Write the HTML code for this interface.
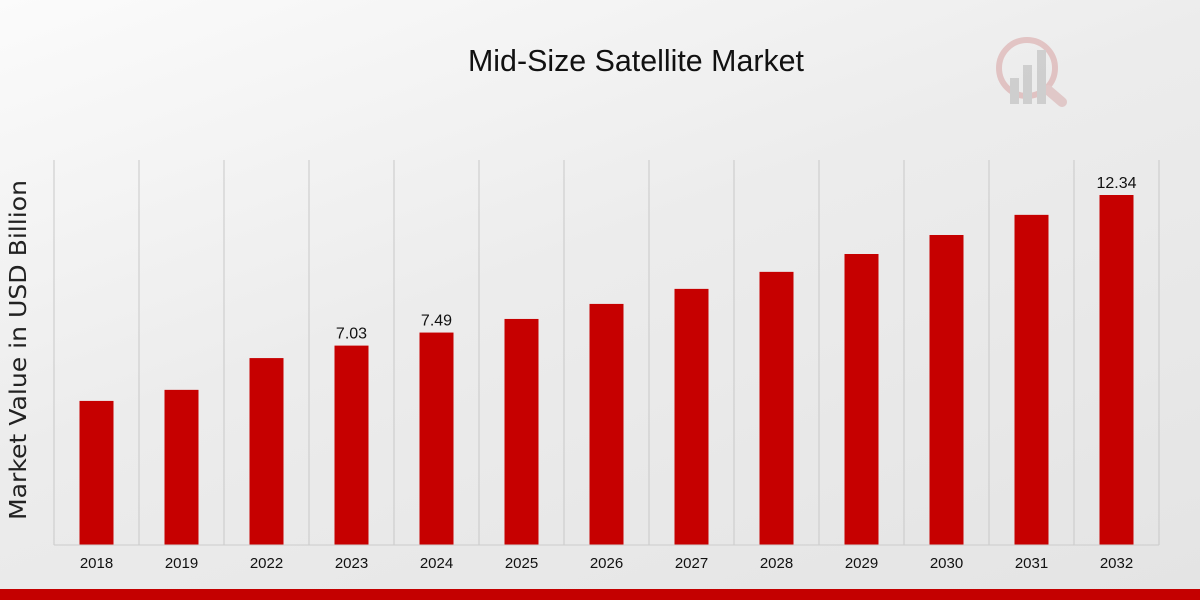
<!DOCTYPE html>
<html><head><meta charset="utf-8"><style>
html,body{margin:0;padding:0;width:1200px;height:600px;overflow:hidden;}
body{background:linear-gradient(160deg,#fbfbfb 0%,#ececec 45%,#e4e4e4 100%);font-family:"Liberation Sans",sans-serif;}
</style></head><body>
<svg id="chart" width="1200" height="600" xmlns="http://www.w3.org/2000/svg" style="position:absolute;left:0;top:0">
<text x="468" y="71" textLength="336" lengthAdjust="spacingAndGlyphs" font-family="Liberation Sans, sans-serif" font-size="31" fill="#111">Mid-Size Satellite Market</text>
<text transform="translate(26,350) rotate(-90)" text-anchor="middle" textLength="340" lengthAdjust="spacingAndGlyphs" font-size="23" fill="#222" font-family="DejaVu Sans, sans-serif">Market Value in USD Billion</text>
<g opacity="0.35">
<circle cx="1027" cy="68" r="28" fill="none" stroke="#c77" stroke-width="6"/>
<line x1="1048" y1="90" x2="1062" y2="102" stroke="#c88" stroke-width="10" stroke-linecap="round"/>
<rect x="1010" y="78" width="9" height="26" fill="#999"/><rect x="1023" y="65" width="9" height="39" fill="#999"/><rect x="1037" y="50" width="9" height="54" fill="#999"/>
</g>
<g id="grid"></g><g id="bars"></g><g id="labels"></g>
<line x1="54" y1="545" x2="1159" y2="545" stroke="#ccc" stroke-width="1"/>
<rect x="0" y="589" width="1200" height="11" fill="#c40000"/>
</svg>
<script>
const categories=["2018","2019","2022","2023","2024","2025","2026","2027","2028","2029","2030","2031","2032"];
const values=[5.08,5.47,6.59,7.03,7.49,7.97,8.50,9.03,9.63,10.26,10.93,11.64,12.34];
const valueLabels=["","","","7.03","7.49","","","","","","","","12.34"];
const ns="http://www.w3.org/2000/svg";
const x0=54,x1=1159,base=545,topY=195,maxV=12.34;
const bw=(x1-x0)/categories.length;
const yScale=v=>base-(v/maxV)*(base-topY);
const xc=i=>x0+bw*(i+0.5);
const g=document.getElementById('grid'),b=document.getElementById('bars'),l=document.getElementById('labels');
for(let i=0;i<=categories.length;i++){const ln=document.createElementNS(ns,'line');


const xx=x0+bw*i;ln.setAttribute('x1',xx);ln.setAttribute('x2',xx);ln.setAttribute('y1',160);ln.setAttribute('y2',545);ln.setAttribute('stroke','#c8c8c8');g.appendChild(ln);}
categories.forEach((c,i)=>{const r=document.createElementNS(ns,'rect');


r.setAttribute('x',xc(i)-17);r.setAttribute('width',34);r.setAttribute('y',yScale(values[i]));r.setAttribute('height',base-yScale(values[i]));r.setAttribute('fill','#c60000');b.appendChild(r);
const t=document.createElementNS(ns,'text');


t.setAttribute('x',xc(i));t.setAttribute('y',568);t.setAttribute('text-anchor','middle');t.setAttribute('font-size','15');t.setAttribute('fill','#111');t.textContent=c;l.appendChild(t);
if(valueLabels[i]){const v=document.createElementNS(ns,'text');


v.setAttribute('x',xc(i));v.setAttribute('y',yScale(values[i])-7);v.setAttribute('text-anchor','middle');v.setAttribute('font-size','16');v.setAttribute('fill','#111');v.textContent=valueLabels[i];l.appendChild(v);}
});
</script>
</body></html>
